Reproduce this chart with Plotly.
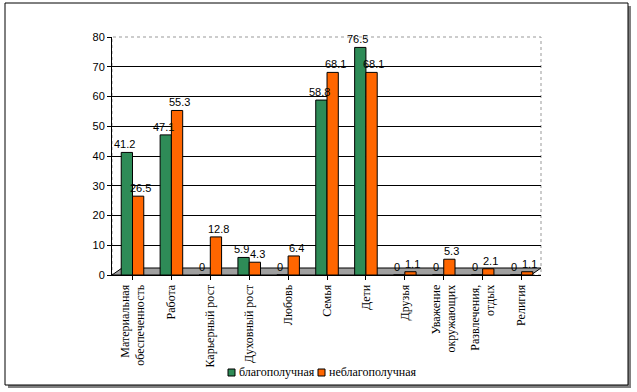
import plotly.graph_objects as go

categories = ["Материальная<br>обеспеченность", "Работа", "Карьерный рост", "Духовный рост",
              "Любовь", "Семья", "Дети", "Друзья", "Уважение<br>окружающих",
              "Развлечения,<br>отдых", "Религия"]
good = [41.2, 47.1, 0, 5.9, 0, 58.8, 76.5, 0, 0, 0, 0]
bad = [26.5, 55.3, 12.8, 4.3, 6.4, 68.1, 68.1, 1.1, 5.3, 2.1, 1.1]
series_names = ["благополучная", "неблагополучная"]
series_colors = ["#2E8B57", "#FF6600"]
y_ticks = [0, 10, 20, 30, 40, 50, 60, 70, 80]

def fmt(v):
    return "0" if v == 0 else f"{v:g}"

L, R, T, B = 112, 96, 37, 117
W, H = 637, 392
pw, ph = W - L - R, H - T - B
def px(x): return (x - L) / pw
def py(y): return (H - B - y) / ph

fig = go.Figure()
annotations = []
for vals, name, col, shift in [(good, series_names[0], series_colors[0], -8),
                               (bad, series_names[1], series_colors[1], 8)]:
    fig.add_trace(go.Bar(x=categories, y=vals, name=name,
                         marker=dict(color=col, line=dict(color="#000000", width=1)),
                         showlegend=False, hoverinfo="skip"))
    for c, v in zip(categories, vals):
        annotations.append(dict(x=c, y=v, xref="x", yref="y", text=fmt(v), showarrow=False,
                                xshift=shift, yanchor="bottom", yshift=0,
                                font=dict(family="Liberation Sans", size=11, color="#000")))

# manual legend
legend_items = [(228, series_colors[0], series_names[0]), (318, series_colors[1], series_names[1])]
shapes = [
    dict(type="rect", xref="paper", yref="paper", x0=px(8), x1=px(631), y0=py(388), y1=py(6),
         fillcolor="#808080", line=dict(width=0), layer="below"),
    dict(type="rect", xref="paper", yref="paper", x0=px(5), x1=px(628), y0=py(385), y1=py(3),
         fillcolor="white", line=dict(color="#000", width=1), layer="below"),
    dict(type="rect", xref="paper", yref="paper", x0=0, x1=1, y0=0, y1=1,
         line=dict(color="#999", width=1, dash="dot"), layer="below"),
    dict(type="path", xref="paper", yref="paper",
         path=(f"M {px(112)} {py(275)} L {px(531)} {py(275)} L {px(541)} {py(268)} "
               f"L {px(122)} {py(268)} Z"),
         fillcolor="#A0A0A0", line=dict(color="#000", width=1), layer="below"),
]
for x0, col, name in legend_items:
    shapes.append(dict(type="rect", xref="paper", yref="paper", x0=px(x0), x1=px(x0 + 7),
                       y0=py(376), y1=py(369), fillcolor=col, line=dict(color="#000", width=1)))
    annotations.append(dict(x=px(x0 + 9), y=py(372), xref="paper", yref="paper", text=name,
                            showarrow=False, xanchor="left", yanchor="middle",
                            font=dict(family="Liberation Serif", size=12, color="#000")))

fig.update_layout(
    width=W, height=H,
    margin=dict(l=L, r=R, t=T, b=B, autoexpand=False),
    paper_bgcolor="white", plot_bgcolor="rgba(0,0,0,0)",
    barmode="group", bargap=0.42, bargroupgap=0,
    showlegend=False,
    xaxis=dict(tickangle=-90, tickfont=dict(family="Liberation Serif", size=12, color="#000"),
               showline=True, linecolor="#000", ticks="outside", ticklen=4, tickcolor="#000",
               showgrid=False, automargin=False),
    yaxis=dict(range=[0, 80], tickvals=y_ticks, showgrid=True, gridcolor="#000", gridwidth=1,
               showline=True, linecolor="#000", ticks="outside", ticklen=4, tickcolor="#000",
               tickfont=dict(family="Liberation Sans", size=11, color="#000"), zeroline=False,
               automargin=False),
    shapes=shapes,
    annotations=annotations,
)

fig.write_html("out.html", config={"displayModeBar": False},
               post_script="document.body.style.margin='0';")
